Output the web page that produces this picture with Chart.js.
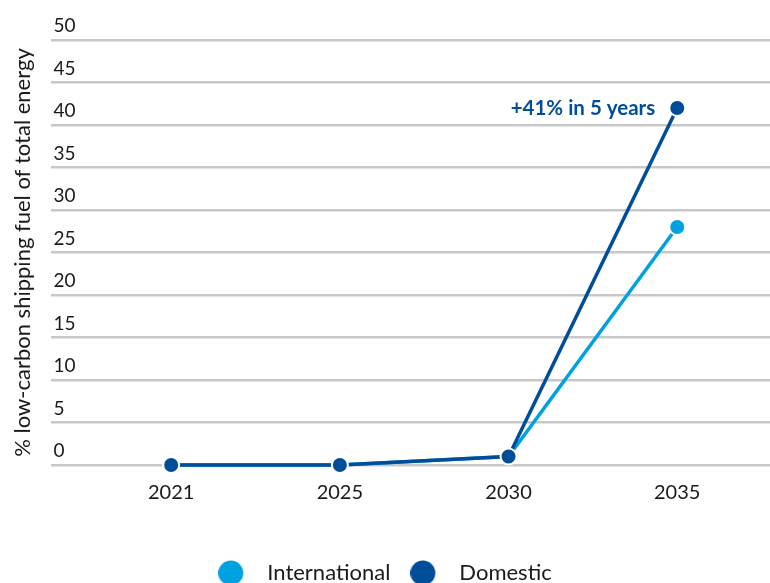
<!DOCTYPE html>
<html>
<head>
<meta charset="utf-8">
<script src="https://cdn.jsdelivr.net/npm/chart.js@4/dist/chart.umd.min.js"></script>
<style>
  html, body { margin: 0; padding: 0; background: #ffffff; overflow: hidden; }
  #wrap { position: relative; width: 770px; height: 594px; }
</style>
</head>
<body>
<div id="wrap"><canvas id="c"></canvas></div>
<script>
// ---- Data ----
const years = ['2021', '2025', '2030', '2035'];
const international = [0, 0, 1, 28];
const domestic = [0, 0, 1, 42];
const seriesNames = ['International', 'Domestic'];
const yTicks = [0, 5, 10, 15, 20, 25, 30, 35, 40, 45, 50];
const yTitle = '% low-carbon shipping fuel of total energy';
const annotationText = '+41% in 5 years';

// ---- Styles ----
const COL_INTL = '#00a1e0';
const COL_DOM = '#004e9a';
const FONT = 'Lato, "Open Sans", sans-serif';

function legendDot(color) {
  const c = document.createElement('canvas');
  c.width = 38; c.height = 26;
  const g = c.getContext('2d');
  g.fillStyle = color;
  g.beginPath();
  g.arc(12.5, 13, 12.5, 0, Math.PI * 2);
  g.fill();
  return c;
}
const legendDots = [legendDot(COL_INTL), legendDot(COL_DOM)];

const annotationPlugin = {
  id: 'annot',
  afterDatasetsDraw(chart) {
    const meta = chart.getDatasetMeta(1);
    const pt = meta.data[3];
    if (!pt) return;
    const ctx = chart.ctx;
    ctx.save();
    ctx.font = 'bold 20.5px ' + FONT;
    ctx.fillStyle = COL_DOM;
    ctx.textAlign = 'right';
    ctx.textBaseline = 'middle';
    ctx.fillText(annotationText, pt.x - 22, pt.y);
    ctx.restore();
  }
};

const pointsFor = (arr) => arr.map((v, i) => ({ x: i, y: v }));

new Chart(document.getElementById('c'), {
  type: 'line',
  data: {
    datasets: [
      {
        label: seriesNames[0],
        data: pointsFor(international),
        borderColor: COL_INTL,
        backgroundColor: COL_INTL,
        borderWidth: 3.5,
        pointRadius: 8,
        pointHoverRadius: 8,
        pointBackgroundColor: COL_INTL,
        pointBorderColor: '#ffffff',
        pointBorderWidth: 2,
        tension: 0,
        clip: false,
        order: 2
      },
      {
        label: seriesNames[1],
        data: pointsFor(domestic),
        borderColor: COL_DOM,
        backgroundColor: COL_DOM,
        borderWidth: 3.5,
        pointRadius: 8,
        pointHoverRadius: 8,
        pointBackgroundColor: COL_DOM,
        pointBorderColor: '#ffffff',
        pointBorderWidth: 2,
        tension: 0,
        clip: false,
        order: 1
      }
    ]
  },
  options: {
    responsive: true,
    maintainAspectRatio: false,
    animation: false,
    layout: { autoPadding: false, padding: { top: 40, left: 0, right: 0, bottom: 0 } },
    plugins: {
      tooltip: { enabled: false },
      legend: {
        position: 'bottom',
        align: 'center',
        labels: {
          usePointStyle: true,
          pointStyleWidth: 38,
          padding: 20,
          color: '#1a1a1a',
          font: { family: FONT, size: 22 },
          sort: (a, b) => a.datasetIndex - b.datasetIndex,
          generateLabels(chart) {
            const items = Chart.defaults.plugins.legend.labels.generateLabels(chart);
            items.forEach(it => { it.pointStyle = legendDots[it.datasetIndex]; });
            return items;
          }
        }
      }
    },
    scales: {
      x: {
        type: 'linear',
        min: -0.71,
        max: 3.55,
        afterBuildTicks(scale) {
          scale.ticks = years.map((_, i) => ({ value: i }));
        },
        afterFit(scale) {
          scale.height = 77;
          scale.paddingLeft = 0;
          scale.paddingRight = 0;
        },
        grid: { display: false, drawTicks: false },
        border: { display: false },
        ticks: {
          padding: 16,
          color: '#1a1a1a',
          font: { family: FONT, size: 20 },
          callback: (v) => years[v]
        }
      },
      y: {
        min: 0,
        max: 50,
        afterBuildTicks(scale) {
          scale.ticks = yTicks.map(v => ({ value: v }));
        },
        afterFit(scale) {
          scale.paddingTop = 0;
          scale.paddingBottom = 0;
        },
        grid: { color: '#c8c8c8', lineWidth: 2.5, drawTicks: false },
        border: { display: false },
        ticks: {
          mirror: true,
          padding: 2,
          labelOffset: -14,
          color: '#1a1a1a',
          font: { family: FONT, size: 19 }
        },
        title: {
          display: true,
          text: yTitle,
          color: '#1a1a1a',
          font: { family: FONT, size: 22 },
          padding: { top: 10, bottom: 11 }
        }
      }
    }
  },
  plugins: [annotationPlugin]
});
</script>
</body>
</html>
